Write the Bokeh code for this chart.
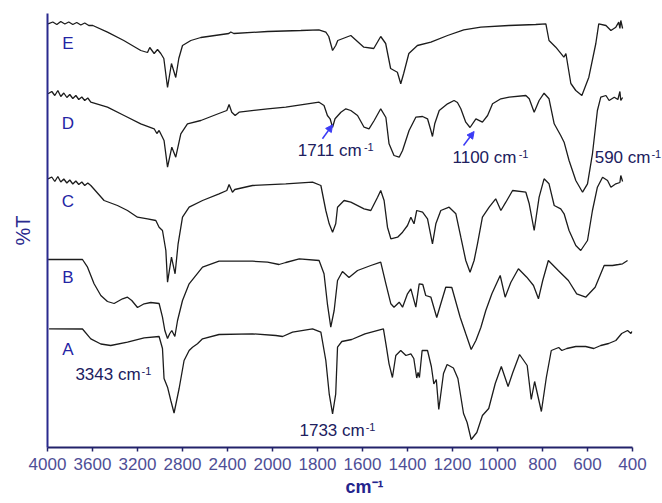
import numpy as np
from bokeh.plotting import figure
from bokeh.models import Range1d, FixedTicker, Label, Arrow, NormalHead, Title
from bokeh.embed import file_html
from bokeh.resources import INLINE

# ---------------- data (wavenumber cm-1, offset %T readings) ----------------
tick_wavenumbers = [4000, 3600, 3200, 2800, 2400, 2000, 1800, 1600, 1400, 1200, 1000, 800, 600, 400]

e_wn = [3995,3953,3917,3882,3846,3811,3775,3740,3704,3669,3633,3597,3467,3322,3171,3111,3091,3052,3022,2993,
        2966,2933,2898,2860,2833,2800,2726,2637,2388,2371,2344,2044,1874,1794,1763,1750,1733,1719,1710,1652,
        1594,1550,1519,1497,1475,1445,1430,1417,1394,1356,1296,1222,1150,1074,950,830,785,771,741,705,
        696,674,652,625,594,563,550,518,496,474,461,456,452,444]
e_t = [423.7,425.5,423,426,423.5,425.5,423,425,422.5,424.5,422,422,415.3,407,397,395,400,394,398,394,
       389,360,384,370,389,402,407,410,414,415.5,414,416,417,417.7,415.3,411,397,402,407,412,
       400.3,399,411,404,379,375.3,363.7,374,394,402,405.3,412,417.7,420.3,422,423,423.7,407,400.3,390.3,
       394,364,357,352,370.3,404,423.7,422,417,420.3,425.3,419,427,419]

d_wn = [3995,3962,3935,3908,3882,3855,3828,3802,3775,3748,3722,3695,3669,3642,3615,3467,3319,3171,3052,3028,
        3008,2964,2933,2895,2860,2815,2756,2637,2477,2406,2386,2362,2332,2297,2044,1941,1793,1771,1756,1744,
        1733,1722,1696,1674,1652,1622,1593,1571,1548,1519,1496,1482,1460,1437,1422,1393,1363,1333,1311,1296,
        1289,1279,1259,1222,1193,1178,1163,1141,1122,1096,1067,1044,1022,985,948,874,859,837,815,793,
        771,748,719,704,682,652,622,600,578,556,541,518,504,481,465,456,452,444]
d_t = [353.7,356,352,357,351,354.5,350,353,349,352,348,350.5,347,349.5,345.3,340.3,332,323.7,318.7,314,
       317,307,280.3,300.3,290.3,313.7,323.7,327,334,337,343,335.3,332,335.3,338.7,340.3,345.3,342,332,328.7,
       320.3,328.7,335.3,338.7,337,332,320.3,318.7,327,338.7,330,303.7,292,290.3,297,317,330.3,331,328.7,317,
       311,323.7,337,343.7,347,345,338.7,325.3,320,328.7,325.3,332,343.7,348.7,350.3,352,348.7,335.3,347,354.3,
       348.7,323.7,312,305.3,287,267,255.3,263.7,293.7,337,350.3,352,347,350.3,348,356,347,350]

c_wn = [3995,3962,3935,3908,3882,3855,3828,3802,3775,3748,3722,3695,3669,3642,3615,
        3497,3378,3289,3200,3111,3037,3008,2978,2948,2933,2898,2866,2839,2800,2741,2622,2475,2406,2386,2356,
        2335,2178,1941,1822,1785,1763,1748,1733,1719,1711,1682,1652,1593,1563,1533,1519,1504,1489,1474,1444,
        1422,1400,1385,1371,1359,1333,1311,1289,1274,1252,1215,1185,1163,1141,1122,1104,1089,1067,1037,1008,
        985,963,933,874,859,837,815,793,771,748,719,704,682,652,630,600,578,556,533,511,
        496,474,456,452,444]
c_t = [268.7,270.5,266,271,265.5,268.5,264.5,267.5,263.5,266.5,263,265.5,262,264.5,262,
       247,242,237,230.3,228.7,227,220.3,217,197,165.3,190.3,173.7,203.7,230.3,240.3,247,253.7,257,263,255.3,
       258,262,263.7,265.3,262,237,223.7,215.3,223.7,240.3,247,245.3,238.7,237,250.3,257,247,220.3,208.7,210.3,
       215.3,222,230.3,223.7,237,235.3,228.7,203.7,223.7,237,240.3,233.7,210.3,187,175.3,187,203.7,230.3,240.3,248.7,
       237,245.3,257,255.3,243.7,217,250.3,268.7,263.7,242,238.7,233.7,217,202,197,207,237,260.3,270.3,267,
       260.3,263.7,265,272,266]

b_wn = [3995,3689,3644,3586,3526,3467,3408,3333,3289,3251,3200,3141,3082,3008,2978,2957,2933,2913,2895,2868,
        2844,2800,2741,2622,2475,2178,2044,1971,1941,1881,1793,1771,1756,1741,1726,1711,1689,1660,1622,1563,
        1519,1496,1474,1460,1437,1422,1400,1385,1363,1348,1332,1319,1296,1270,1252,1230,1203,1166,1141,1117,
        1096,1074,1052,1025,988,966,941,907,870,840,818,799,774,730,685,648,608,566,526,489,
        462,444,422]
b_t = [188,188,180.3,163.7,152,146,144,148.7,150.3,147,140,143.7,145,144,130.3,117,109,114,117,111,
       127,147,163.7,180.3,186.3,186.3,185.3,183,185,188.7,187,173.7,143.7,120.3,137,167,176,170,177,182,
       185.3,163.7,143.7,140.3,145.3,140.3,153.7,158.7,140.3,163.7,163,152,150.3,130,143.7,160.3,160,130.3,113.7,98,
       107,120,137,153.7,172,150.3,165,178.7,170.3,162,148.7,167,187,177,167,153.7,150.3,160.3,182,182,
       183,183.7,187]

a_wn = [3986,3689,3615,3526,3438,3289,3141,3008,2978,2964,2933,2904,2875,2830,2786,2741,2711,2667,2622,2475,
        2178,1985,1955,1911,1822,1785,1763,1748,1733,1719,1711,1692,1648,1589,1507,1496,1482,1467,1452,1430,
        1407,1385,1372,1359,1353,1347,1335,1311,1294,1283,1272,1261,1240,1224,1196,1176,1151,1135,1117,1092,
        1067,1039,1010,983,953,932,902,868,850,835,805,783,761,728,714,692,652,608,572,541,
        506,474,448,422,407,403]
a_t = [118.7,118.5,108.7,103.5,102,105.3,109.7,111,99,69,60.3,47,34.5,59,87,97,100.3,103.7,108.7,113,
       113.7,112,111,115.3,118.7,115.3,87,53.7,33.7,53.7,100.3,106,108,113.7,118.7,103.7,83.7,70,92,97,
       92,93.7,89,69.5,75,70,97,97,81,63.5,68,38,74,83,79.5,69,34,25,8,15,
       32,39,64,81,61,75,93,82,48,66,36,70,97,100,97,99,101,101,99,102,
       104,107,114,117,114,116]

sample_names = ["E", "D", "C", "B", "A"]
peak_values = ["3343", "1711", "1100", "590", "1733"]


def pos(w):
    """Instrument split scale: 400 cm-1 per division above 2000, 200 cm-1 per division below."""
    w = np.asarray(w, dtype=float)
    return np.where(w >= 2000, (4000 - w) / 400.0, 5 + (2000 - w) / 200.0)


FONT = "Liberation Sans"
AXIS_BLUE = "#2a2a8e"
DIV = 45.0  # px per scale division

p = figure(width=662, height=503, output_backend="svg", toolbar_location=None,
           x_range=Range1d(0, 615 / DIV), y_range=Range1d(0, 434),
           min_border_left=47, min_border_right=0, min_border_top=13, min_border_bottom=56)
p.grid.visible = False
p.outline_line_color = None

ticks = [float(v) for v in pos(tick_wavenumbers)]
p.xaxis.ticker = FixedTicker(ticks=ticks)
p.xaxis.bounds = (ticks[0], ticks[-1])
p.xaxis.major_label_overrides = {t: str(w) for t, w in zip(ticks, tick_wavenumbers)}
p.xaxis.axis_line_color = "#22226a"
p.xaxis.axis_line_width = 2
p.xaxis.major_tick_line_color = "#22226a"
p.xaxis.major_tick_line_width = 1.5
p.xaxis.major_tick_out = 4
p.xaxis.major_tick_in = 0
p.xaxis.minor_tick_out = 0
p.xaxis.minor_tick_in = 0
p.xaxis.major_label_text_font = FONT
p.xaxis.major_label_text_font_size = "17px"
p.xaxis.major_label_text_color = "#4e4e96"
p.xaxis.major_label_standoff = 6

p.yaxis.ticker = FixedTicker(ticks=[])
p.yaxis.axis_line_color = AXIS_BLUE
p.yaxis.axis_line_width = 2
p.yaxis.major_tick_out = 0
p.yaxis.minor_tick_out = 0
p.yaxis.axis_label = "%T"
p.yaxis.axis_label_text_font = FONT
p.yaxis.axis_label_text_font_size = "20px"
p.yaxis.axis_label_text_font_style = "normal"
p.yaxis.axis_label_text_color = AXIS_BLUE
p.yaxis.axis_label_standoff = 14

# x-axis title  cm-1
p.add_layout(Title(text="cm\u207b\u00b9", align="left", offset=298, standoff=5,
                   text_font=FONT, text_font_size="18px", text_font_style="bold",
                   text_color="#23238c"), "below")

for wn, t in [(e_wn, e_t), (d_wn, d_t), (c_wn, c_t), (b_wn, b_t), (a_wn, a_t)]:
    p.line(pos(wn), t, line_color="#1c1c1c", line_width=1.3)

# sample letters
letter_y = [404.5, 324.5, 246.5, 170.5, 98]
for name, yy in zip(sample_names, letter_y):
    p.add_layout(Label(x=float(pos(3819)), y=yy, text=name, text_font=FONT, text_font_size="17px",
                       text_color="#2424a4", text_align="center", text_baseline="middle"))

# peak annotations: left edge (on the cm-1 scale) and vertical centre
ann_x = [3752, 1888, 1200, 568, 1880]
ann_y = [73.5, 297, 290.5, 290.5, 17]
ANN = "#20205e"
for val, ax, ay in zip(peak_values, ann_x, ann_y):
    main = f"{val} cm"
    width_px = (len(val) * 0.556 + 0.278 + 0.5 + 0.833) * 17
    x0 = float(pos(ax))
    p.add_layout(Label(x=x0, y=ay, text=main, text_font=FONT, text_font_size="17px",
                       text_color=ANN, text_align="left", text_baseline="middle"))
    p.add_layout(Label(x=x0 + (width_px + 1) / DIV, y=ay + 3.5, text="-1", text_font=FONT,
                       text_font_size="11px", text_color=ANN, text_align="left", text_baseline="middle"))

# arrows
ARROW = "#3b3bf5"
for ws, ys, we, ye in [(1778, 308.7, 1733, 322.7), (1151, 302, 1104, 316)]:
    p.add_layout(Arrow(end=NormalHead(size=7, fill_color=ARROW, line_color=ARROW),
                       x_start=float(pos(ws)), y_start=ys, x_end=float(pos(we)), y_end=ye,
                       line_color=ARROW, line_width=1.5))

open("out.html", "w").write(file_html(p, INLINE))
